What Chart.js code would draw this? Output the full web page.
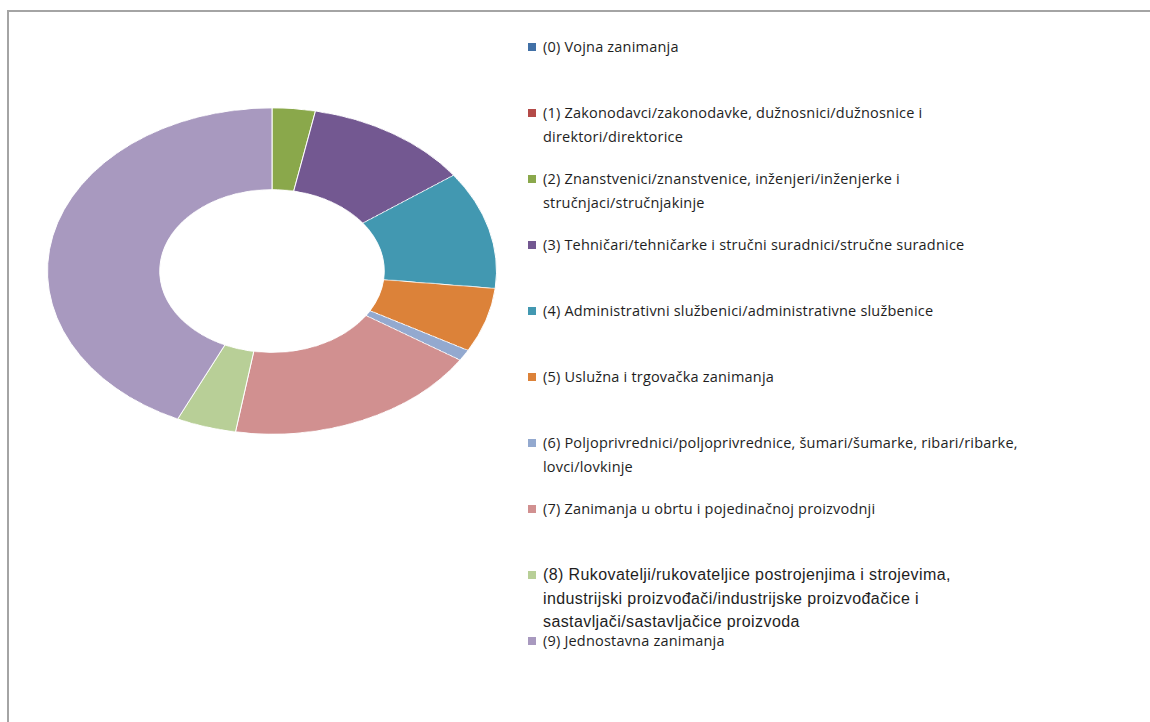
<!DOCTYPE html>
<html>
<head>
<meta charset="utf-8">
<script src="https://cdn.jsdelivr.net/npm/chart.js@4/dist/chart.umd.min.js"></script>
<style>
  html, body { margin: 0; padding: 0; background: #fff; }
  body { width: 1150px; height: 722px; position: relative; overflow: hidden; }
  #frame {
    position: absolute; left: 7px; top: 10px; width: 1160px; height: 730px;
    border-top: 2px solid #a4a4a4; border-left: 2px solid #a4a4a4;
  }
  #pieWrap {
    position: absolute; left: 47px; top: 46px; width: 450px; height: 450px;
    transform: scaleY(0.726); transform-origin: 50% 50%;
  }
  #legend {
    position: absolute; left: 528px; top: 35px; margin: 0; padding: 0; list-style: none;
    font-family: "Open Sans", sans-serif; font-size: 14.5px; letter-spacing: 0.2px; color: #1e1e1e;
  }
  #legend li { position: relative; height: 66px; line-height: 24px; padding-left: 15px; white-space: nowrap; }
  #legend li .sw { position: absolute; left: 0; top: 8px; width: 8px; height: 8px; }
  #legend li.alt { font-family: "Liberation Sans", Arial, sans-serif; font-size: 16px; letter-spacing: 0.4px; line-height: 23.5px; }
</style>
</head>
<body>
<div id="frame"></div>
<div id="pieWrap"><canvas id="pie" width="450" height="450"></canvas></div>
<ul id="legend"></ul>
<script>
// legend labels (line breaks as in the original legend)
const labels = [
  ['(0) Vojna zanimanja'],
  ['(1) Zakonodavci/zakonodavke, dužnosnici/dužnosnice i', 'direktori/direktorice'],
  ['(2) Znanstvenici/znanstvenice, inženjeri/inženjerke i', 'stručnjaci/stručnjakinje'],
  ['(3) Tehničari/tehničarke i stručni suradnici/stručne suradnice'],
  ['(4) Administrativni službenici/administrativne službenice'],
  ['(5) Uslužna i trgovačka zanimanja'],
  ['(6) Poljoprivrednici/poljoprivrednice, šumari/šumarke, ribari/ribarke,', 'lovci/lovkinje'],
  ['(7) Zanimanja u obrtu i pojedinačnoj proizvodnji'],
  ['(8) Rukovatelji/rukovateljice postrojenjima i strojevima,', 'industrijski proizvođači/industrijske proizvođačice i', 'sastavljači/sastavljačice proizvoda'],
  ['(9) Jednostavna zanimanja']
];

// share of each group, in percent
const shares = [0, 0, 3.1, 11.9, 11.7, 6.4, 1.1, 18.4, 4.3, 43.1];

const sliceColors = ['#4170a6', '#b44a48', '#8aa84b', '#735891', '#4298b1', '#dc8239', '#93a9cf', '#d19090', '#b8cf97', '#a899bf'];

const chart = new Chart(document.getElementById('pie'), {
    type: 'doughnut',
    data: {
        labels: labels,
        datasets: [{
            data: shares,
            backgroundColor: sliceColors,
            borderColor: '#ffffff',
            borderWidth: 1
        }]
    },
    options: {
        responsive: false,
        animation: false,
        cutout: '50%',
        layout: { padding: 0 },
        plugins: {
            legend: { display: false },
            tooltip: { enabled: false }
        }
    }
});

// HTML legend built from the chart's own labels/colors
const ul = document.getElementById('legend');
chart.data.labels.forEach((lines, i) => {
    const li = document.createElement('li');
    if (i === 8) li.className = 'alt';
    const sw = document.createElement('span');
    sw.className = 'sw';
    sw.style.background = sliceColors[i];
    li.appendChild(sw);
    lines.forEach((t, k) => {
        if (k > 0) li.appendChild(document.createElement('br'));
        li.appendChild(document.createTextNode(t));
    });
    ul.appendChild(li);
});
</script>
</body>
</html>
